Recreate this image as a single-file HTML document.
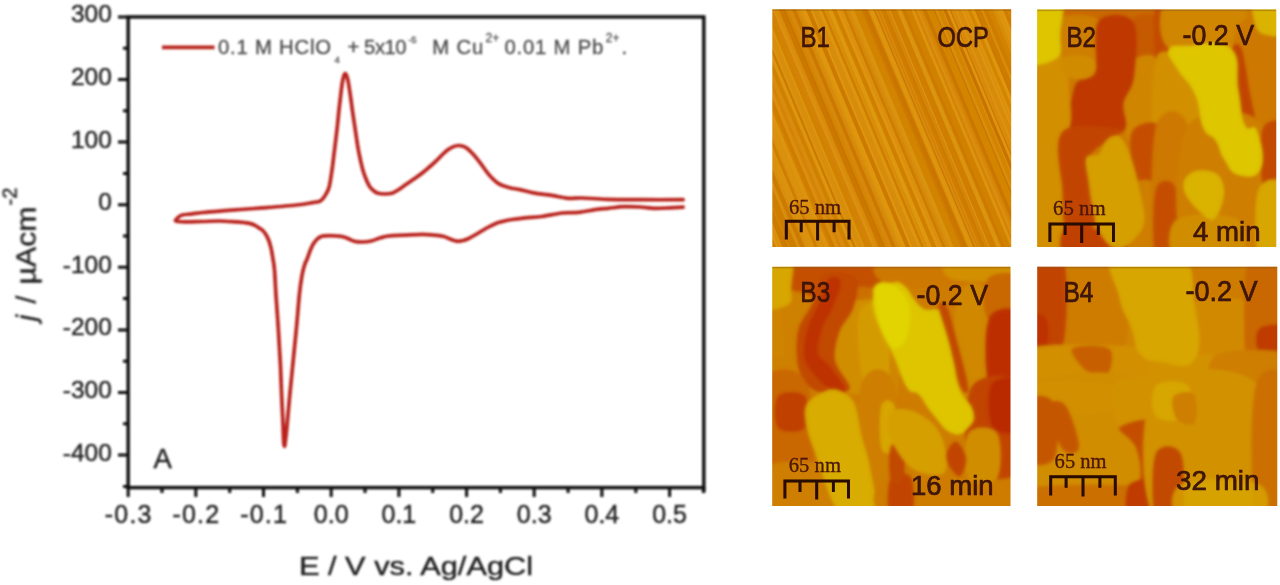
<!DOCTYPE html>
<html lang="en">
<head>
<meta charset="utf-8">
<title>Cyclic voltammogram and AFM images</title>
<style>
html,body{margin:0;padding:0;background:#fff;}
body{width:1280px;height:585px;overflow:hidden;position:relative;}
svg{position:absolute;left:0;top:0;display:block;}
svg text{font-family:'Liberation Sans', Arial, sans-serif;}
.serif{font-family:'Liberation Serif','Times New Roman',serif;}
</style>
</head>
<body>
<svg width="1280" height="585" viewBox="0 0 1280 585">
<defs>
<filter id="soft" x="-2%" y="-2%" width="104%" height="104%"><feGaussianBlur stdDeviation="0.8"/></filter>
</defs>
<rect width="1280" height="585" fill="#ffffff"/>
<g filter="url(#soft)">
<rect x="128.2" y="16.9" width="575.6" height="470.7" fill="none" stroke="#0a0a0a" stroke-width="3.4"/>
<path d="M118.0 455.1H128.2M118.0 392.5H128.2M118.0 329.9H128.2M118.0 267.3H128.2M118.0 204.7H128.2M118.0 142.1H128.2M118.0 79.5H128.2M118.0 16.9H128.2M123.0 423.8H128.2M123.0 361.2H128.2M123.0 298.6H128.2M123.0 236.0H128.2M123.0 173.4H128.2M123.0 110.8H128.2M123.0 48.2H128.2M123.0 486.4H128.2M128.2 487.6V497.0M195.8 487.6V497.0M263.5 487.6V497.0M331.2 487.6V497.0M398.9 487.6V497.0M466.6 487.6V497.0M534.2 487.6V497.0M601.9 487.6V497.0M669.6 487.6V497.0M162.0 487.6V493.0M229.7 487.6V493.0M297.4 487.6V493.0M365.0 487.6V493.0M432.7 487.6V493.0M500.4 487.6V493.0M568.1 487.6V493.0M635.8 487.6V493.0M703.4 487.6V493.0" stroke="#0a0a0a" stroke-width="3" fill="none"/>
<path d="M703.8 487.6V492.5" stroke="#0a0a0a" stroke-width="3.4"/>
<text x="111.8" y="460.5" text-anchor="end" font-size="24.5" fill="#232323" stroke="#232323" stroke-width="0.45">-400</text>
<text x="111.8" y="397.9" text-anchor="end" font-size="24.5" fill="#232323" stroke="#232323" stroke-width="0.45">-300</text>
<text x="111.8" y="335.3" text-anchor="end" font-size="24.5" fill="#232323" stroke="#232323" stroke-width="0.45">-200</text>
<text x="111.8" y="272.7" text-anchor="end" font-size="24.5" fill="#232323" stroke="#232323" stroke-width="0.45">-100</text>
<text x="111.8" y="210.1" text-anchor="end" font-size="24.5" fill="#232323" stroke="#232323" stroke-width="0.45">0</text>
<text x="111.8" y="147.5" text-anchor="end" font-size="24.5" fill="#232323" stroke="#232323" stroke-width="0.45">100</text>
<text x="111.8" y="84.9" text-anchor="end" font-size="24.5" fill="#232323" stroke="#232323" stroke-width="0.45">200</text>
<text x="111.8" y="22.3" text-anchor="end" font-size="24.5" fill="#232323" stroke="#232323" stroke-width="0.45">300</text>
<text x="128.8" y="522.6" text-anchor="middle" font-size="25" fill="#232323" stroke="#232323" stroke-width="0.45" letter-spacing="1.2">-0.3</text>
<text x="196.4" y="522.6" text-anchor="middle" font-size="25" fill="#232323" stroke="#232323" stroke-width="0.45" letter-spacing="1.2">-0.2</text>
<text x="264.1" y="522.6" text-anchor="middle" font-size="25" fill="#232323" stroke="#232323" stroke-width="0.45" letter-spacing="1.2">-0.1</text>
<text x="331.2" y="522.6" text-anchor="middle" font-size="25" fill="#232323" stroke="#232323" stroke-width="0.45">0.0</text>
<text x="398.9" y="522.6" text-anchor="middle" font-size="25" fill="#232323" stroke="#232323" stroke-width="0.45">0.1</text>
<text x="466.6" y="522.6" text-anchor="middle" font-size="25" fill="#232323" stroke="#232323" stroke-width="0.45">0.2</text>
<text x="534.2" y="522.6" text-anchor="middle" font-size="25" fill="#232323" stroke="#232323" stroke-width="0.45">0.3</text>
<text x="601.9" y="522.6" text-anchor="middle" font-size="25" fill="#232323" stroke="#232323" stroke-width="0.45">0.4</text>
<text x="669.6" y="522.6" text-anchor="middle" font-size="25" fill="#232323" stroke="#232323" stroke-width="0.45">0.5</text>
<text x="299.0" y="575" font-size="26.5" fill="#232323" stroke="#232323" stroke-width="0.45" textLength="234" lengthAdjust="spacingAndGlyphs">E / V vs. Ag/AgCl</text>
<g transform="translate(35.6 323) rotate(-90)" fill="#232323" stroke="#232323" stroke-width="0.45"><text x="2" y="0" font-size="28" font-style="italic">j</text><text x="19.5" y="0" font-size="28">/</text><text x="38.5" y="0" font-size="28" textLength="78" lengthAdjust="spacingAndGlyphs">µAcm</text><text x="117.5" y="-18.6" font-size="20">-2</text></g>
<text x="153.6" y="468.3" font-size="27.5" fill="#232323" stroke="#232323" stroke-width="0.45">A</text>
<path d="M175.4 220.5C175.8 220.0 176.9 218.4 178.0 217.5C179.1 216.6 179.9 215.6 182.2 215.0C184.5 214.4 188.6 214.3 192.0 213.9C195.4 213.5 196.6 213.1 202.7 212.5C208.8 211.9 218.4 211.2 228.4 210.4C238.4 209.6 251.2 208.8 262.6 207.9C274.0 207.0 288.3 205.9 296.8 205.0C305.3 204.1 310.0 203.0 313.8 202.4C317.6 201.8 318.3 202.0 319.8 201.3C321.3 200.7 322.0 199.7 323.0 198.5C324.0 197.3 325.0 195.9 326.0 194.0C327.0 192.1 328.2 190.8 329.2 186.8C330.2 182.8 331.1 176.1 332.0 170.0C332.9 163.9 333.6 156.9 334.5 150.0C335.4 143.1 336.3 135.4 337.1 128.4C337.9 121.4 338.5 114.3 339.2 108.0C339.9 101.7 340.6 95.6 341.2 90.8C341.8 86.0 342.4 81.8 343.0 79.0C343.6 76.2 344.2 74.3 344.8 73.7C345.4 73.1 346.0 74.4 346.5 75.5C347.0 76.6 347.4 77.2 348.0 80.5C348.6 83.8 349.6 89.9 350.3 95.0C351.1 100.1 351.7 105.8 352.5 111.3C353.3 116.8 354.1 122.3 355.0 128.0C355.9 133.7 356.8 140.5 357.6 145.5C358.4 150.5 359.1 154.0 360.0 158.0C360.9 162.0 361.7 165.9 362.7 169.4C363.7 172.9 364.9 176.2 366.0 179.0C367.1 181.8 368.3 184.5 369.6 186.5C370.9 188.5 372.6 189.9 374.0 191.0C375.4 192.1 376.3 192.8 378.1 193.3C379.9 193.8 382.7 194.0 385.0 194.0C387.3 194.0 389.6 194.0 391.8 193.3C394.0 192.6 395.7 191.4 398.0 190.0C400.3 188.6 402.8 186.6 405.5 184.8C408.2 183.0 411.1 181.0 414.0 179.0C416.9 177.0 419.9 174.9 422.6 172.8C425.3 170.7 427.7 168.5 430.0 166.5C432.3 164.5 434.2 162.8 436.2 160.9C438.2 159.0 440.0 156.9 442.0 155.0C444.0 153.1 446.3 151.0 448.2 149.6C450.1 148.2 451.8 147.3 453.5 146.6C455.2 145.9 456.9 145.6 458.5 145.5C460.1 145.4 461.6 145.8 463.0 146.2C464.4 146.6 465.5 147.1 467.0 148.2C468.5 149.3 470.3 151.2 472.0 153.0C473.7 154.8 475.6 156.9 477.3 159.1C479.1 161.3 480.8 163.7 482.5 166.0C484.2 168.3 485.8 170.7 487.5 172.8C489.2 174.9 490.8 176.8 492.5 178.5C494.2 180.2 495.9 181.8 497.8 183.1C499.7 184.3 501.7 185.2 504.0 186.0C506.3 186.8 508.8 187.6 511.5 188.2C514.2 188.8 516.4 188.8 520.0 189.6C523.6 190.4 528.0 191.9 533.3 192.9C538.6 193.9 546.0 194.5 551.8 195.4C557.6 196.3 563.1 197.9 568.2 198.3C573.3 198.7 576.1 197.8 582.6 198.0C589.1 198.2 597.0 199.0 607.2 199.3C617.5 199.6 631.5 199.6 644.1 199.7C656.8 199.8 676.6 199.7 683.1 199.7 M683.1 207.1C680.9 207.2 674.8 207.6 670.0 207.8C665.2 208.0 659.4 208.4 654.4 208.3C649.4 208.2 645.1 207.3 640.0 207.0C634.9 206.7 628.9 206.5 623.6 206.7C618.3 206.9 612.8 207.8 608.0 208.3C603.2 208.8 599.8 209.0 594.9 209.7C590.0 210.4 584.0 211.8 578.5 212.3C573.0 212.9 568.2 212.3 562.0 213.0C555.8 213.7 547.6 215.7 541.5 216.5C535.4 217.3 530.0 217.3 525.1 217.8C520.2 218.3 515.4 219.0 512.0 219.5C508.6 220.0 507.1 220.4 504.6 221.0C502.1 221.6 499.4 222.1 497.0 223.0C494.6 223.9 492.3 225.2 490.3 226.2C488.3 227.2 486.7 228.0 485.0 229.0C483.3 230.0 481.8 230.9 480.0 232.0C478.2 233.1 476.2 234.3 474.0 235.5C471.8 236.7 469.0 238.4 467.0 239.3C465.0 240.2 463.7 240.5 462.0 240.8C460.3 241.1 458.8 241.5 456.8 241.2C454.8 240.9 452.3 239.8 450.0 239.0C447.7 238.2 445.9 237.0 443.1 236.3C440.3 235.6 436.4 235.3 433.0 235.0C429.6 234.7 427.3 234.4 422.6 234.4C417.9 234.4 410.7 234.9 405.0 235.2C399.3 235.5 392.6 235.5 388.4 236.0C384.2 236.5 382.9 237.2 380.0 238.0C377.1 238.8 374.3 240.3 371.3 241.0C368.3 241.7 364.9 242.0 362.0 242.0C359.1 242.0 356.5 241.8 354.2 241.2C351.9 240.6 350.0 239.3 348.0 238.5C346.0 237.7 343.8 236.9 342.0 236.5C340.2 236.1 339.1 236.2 337.1 236.0C335.1 235.8 332.2 235.6 330.0 235.6C327.8 235.6 325.8 235.7 324.1 235.9C322.4 236.1 321.1 236.5 320.0 237.0C318.9 237.5 318.4 237.9 317.3 239.0C316.2 240.1 314.6 241.7 313.5 243.5C312.4 245.3 311.4 247.6 310.4 250.0C309.4 252.4 308.5 255.4 307.5 258.0C306.5 260.6 305.3 262.5 304.4 265.5C303.5 268.5 302.7 271.2 301.9 276.0C301.1 280.8 300.3 285.5 299.4 294.2C298.5 302.9 297.5 317.0 296.4 328.4C295.3 339.8 294.1 351.2 293.0 362.6C291.9 374.0 290.6 385.9 289.6 396.8C288.6 407.7 287.5 420.5 286.8 428.0C286.1 435.5 285.7 438.9 285.3 442.0C284.9 445.1 284.7 446.5 284.4 446.3C284.1 446.1 283.8 444.7 283.6 441.0C283.4 437.3 283.3 431.5 283.0 424.1C282.7 416.7 282.1 407.1 281.7 396.8C281.2 386.6 280.9 374.0 280.3 362.6C279.7 351.2 279.0 339.8 278.3 328.4C277.6 317.0 276.5 303.9 275.9 294.2C275.3 284.5 275.0 276.0 274.5 270.0C274.0 264.0 273.4 261.6 272.8 258.0C272.2 254.4 271.8 251.3 271.1 248.4C270.4 245.5 269.7 242.8 268.8 240.5C267.9 238.2 267.0 236.4 266.0 234.7C265.0 233.0 263.9 231.6 262.8 230.5C261.7 229.4 260.4 228.8 259.1 227.9C257.8 227.0 256.4 226.0 255.0 225.3C253.6 224.6 252.4 224.1 250.6 223.6C248.8 223.1 246.3 222.8 244.0 222.5C241.7 222.2 240.9 222.2 236.9 221.9C232.9 221.7 225.5 221.1 219.8 221.0C214.1 220.9 208.4 221.4 202.7 221.5C197.0 221.6 189.7 221.8 185.6 221.8C181.5 221.8 179.7 221.7 178.0 221.5C176.3 221.3 175.8 220.7 175.4 220.5" fill="none" stroke="#ba211c" stroke-width="3.7" stroke-linejoin="round" stroke-linecap="round"/>
<path d="M162 47.3H214.5" stroke="#ba211c" stroke-width="3.7"/>
<text x="218.0" y="54.3" font-size="20.3" fill="#4a4a4a" stroke="#4a4a4a" stroke-width="0.3" textLength="113" lengthAdjust="spacing">0.1 M HClO</text>
<text x="334.4" y="63.2" font-size="9.5" fill="#4a4a4a" stroke="#4a4a4a" stroke-width="0.3">4</text>
<text x="347.6" y="54.3" font-size="20.3" fill="#4a4a4a" stroke="#4a4a4a" stroke-width="0.3" textLength="59" lengthAdjust="spacing">+ 5x10</text>
<text x="408.2" y="43.0" font-size="9.5" fill="#4a4a4a" stroke="#4a4a4a" stroke-width="0.3">-5</text>
<text x="432.2" y="54.3" font-size="20.3" fill="#4a4a4a" stroke="#4a4a4a" stroke-width="0.3" textLength="51" lengthAdjust="spacing">M Cu</text>
<text x="485.6" y="41.6" font-size="12.0" fill="#4a4a4a" stroke="#4a4a4a" stroke-width="0.3">2+</text>
<text x="504.4" y="54.3" font-size="20.3" fill="#4a4a4a" stroke="#4a4a4a" stroke-width="0.3" textLength="99" lengthAdjust="spacing">0.01 M Pb</text>
<text x="605.8" y="41.6" font-size="12.0" fill="#4a4a4a" stroke="#4a4a4a" stroke-width="0.3">2+</text>
<text x="621.6" y="54.3" font-size="20.3" fill="#4a4a4a" stroke="#4a4a4a" stroke-width="0.3">.</text>
</g>
<defs>
<clipPath id="cpB1"><rect x="772.3" y="9.3" width="238.9" height="237.7"/></clipPath>
<clipPath id="cpB2"><rect x="1037.2" y="9.5" width="239.0" height="237.5"/></clipPath>
<clipPath id="cpB3"><rect x="772.3" y="266.8" width="238.1" height="239.2"/></clipPath>
<clipPath id="cpB4"><rect x="1037.3" y="266.8" width="239.9" height="239.2"/></clipPath>
<filter id="edge" x="-5%" y="-5%" width="110%" height="110%"><feGaussianBlur stdDeviation="0.7"/></filter>
<filter id="crisp" x="-5%" y="-5%" width="110%" height="110%"><feGaussianBlur stdDeviation="1.1"/></filter>
<filter id="tx" x="-5%" y="-20%" width="110%" height="140%"><feGaussianBlur stdDeviation="0.75"/></filter>
</defs>
<defs><filter id="blB1" x="-10%" y="-10%" width="120%" height="120%"><feGaussianBlur stdDeviation="0.62"/></filter></defs>
<g filter="url(#edge)"><g clip-path="url(#cpB1)">
<g filter="url(#blB1)"><g transform="translate(772.3 9.3) scale(0.40838 0.40632)">
<rect x="-60" y="-60" width="705" height="705" fill="#d88a08"/>
<g transform="rotate(-22.7 292 292)">
<rect x="-60" y="-200" width="70" height="1000" fill="#b96a02" fill-opacity="0.16"/>
<rect x="70" y="-200" width="55" height="1000" fill="#dc9c0a" fill-opacity="0.20"/>
<rect x="150" y="-200" width="45" height="1000" fill="#b96a02" fill-opacity="0.16"/>
<rect x="215" y="-200" width="60" height="1000" fill="#dc9c0a" fill-opacity="0.14"/>
<rect x="300" y="-200" width="50" height="1000" fill="#b96a02" fill-opacity="0.18"/>
<rect x="380" y="-200" width="70" height="1000" fill="#dc9c0a" fill-opacity="0.12"/>
<rect x="470" y="-200" width="60" height="1000" fill="#b96a02" fill-opacity="0.14"/>
<rect x="560" y="-200" width="80" height="1000" fill="#dc9c0a" fill-opacity="0.14"/>
<rect x="-194" y="-200" width="6" height="1000" fill="#b45400" fill-opacity="0.32"/>
<rect x="-188" y="-200" width="4" height="1000" fill="#eab018" fill-opacity="0.23"/>
<rect x="-184" y="-200" width="10" height="1000" fill="#b45400" fill-opacity="0.15"/>
<rect x="-174" y="-200" width="6" height="1000" fill="#eab018" fill-opacity="0.12"/>
<rect x="-168" y="-200" width="10" height="1000" fill="#b45400" fill-opacity="0.25"/>
<rect x="-152" y="-200" width="10" height="1000" fill="#b45400" fill-opacity="0.27"/>
<rect x="-142" y="-200" width="8" height="1000" fill="#eab018" fill-opacity="0.24"/>
<rect x="-134" y="-200" width="3" height="1000" fill="#eab018" fill-opacity="0.33"/>
<rect x="-131" y="-200" width="8" height="1000" fill="#eab018" fill-opacity="0.22"/>
<rect x="-123" y="-200" width="6" height="1000" fill="#b45400" fill-opacity="0.15"/>
<rect x="-117" y="-200" width="4" height="1000" fill="#b45400" fill-opacity="0.23"/>
<rect x="-113" y="-200" width="10" height="1000" fill="#eab018" fill-opacity="0.27"/>
<rect x="-97" y="-200" width="3" height="1000" fill="#b45400" fill-opacity="0.18"/>
<rect x="-94" y="-200" width="4" height="1000" fill="#b45400" fill-opacity="0.11"/>
<rect x="-90" y="-200" width="8" height="1000" fill="#b45400" fill-opacity="0.20"/>
<rect x="-82" y="-200" width="5" height="1000" fill="#eab018" fill-opacity="0.35"/>
<rect x="-77" y="-200" width="10" height="1000" fill="#eab018" fill-opacity="0.15"/>
<rect x="-67" y="-200" width="3" height="1000" fill="#b45400" fill-opacity="0.35"/>
<rect x="-64" y="-200" width="6" height="1000" fill="#b45400" fill-opacity="0.25"/>
<rect x="-58" y="-200" width="4" height="1000" fill="#b45400" fill-opacity="0.17"/>
<rect x="-54" y="-200" width="3" height="1000" fill="#eab018" fill-opacity="0.10"/>
<rect x="-51" y="-200" width="6" height="1000" fill="#b45400" fill-opacity="0.13"/>
<rect x="-45" y="-200" width="4" height="1000" fill="#b45400" fill-opacity="0.10"/>
<rect x="-41" y="-200" width="6" height="1000" fill="#b45400" fill-opacity="0.15"/>
<rect x="-35" y="-200" width="8" height="1000" fill="#eab018" fill-opacity="0.23"/>
<rect x="-27" y="-200" width="10" height="1000" fill="#b45400" fill-opacity="0.21"/>
<rect x="-17" y="-200" width="6" height="1000" fill="#eab018" fill-opacity="0.21"/>
<rect x="-11" y="-200" width="4" height="1000" fill="#eab018" fill-opacity="0.32"/>
<rect x="-7" y="-200" width="8" height="1000" fill="#eab018" fill-opacity="0.33"/>
<rect x="1" y="-200" width="4" height="1000" fill="#eab018" fill-opacity="0.36"/>
<rect x="5" y="-200" width="8" height="1000" fill="#b45400" fill-opacity="0.13"/>
<rect x="13" y="-200" width="4" height="1000" fill="#eab018" fill-opacity="0.17"/>
<rect x="17" y="-200" width="8" height="1000" fill="#eab018" fill-opacity="0.18"/>
<rect x="25" y="-200" width="3" height="1000" fill="#eab018" fill-opacity="0.15"/>
<rect x="28" y="-200" width="10" height="1000" fill="#eab018" fill-opacity="0.26"/>
<rect x="38" y="-200" width="5" height="1000" fill="#b45400" fill-opacity="0.13"/>
<rect x="43" y="-200" width="8" height="1000" fill="#b45400" fill-opacity="0.25"/>
<rect x="51" y="-200" width="6" height="1000" fill="#eab018" fill-opacity="0.14"/>
<rect x="61" y="-200" width="4" height="1000" fill="#b45400" fill-opacity="0.14"/>
<rect x="75" y="-200" width="4" height="1000" fill="#b45400" fill-opacity="0.20"/>
<rect x="79" y="-200" width="6" height="1000" fill="#b45400" fill-opacity="0.21"/>
<rect x="85" y="-200" width="3" height="1000" fill="#eab018" fill-opacity="0.23"/>
<rect x="88" y="-200" width="5" height="1000" fill="#eab018" fill-opacity="0.28"/>
<rect x="93" y="-200" width="5" height="1000" fill="#b45400" fill-opacity="0.34"/>
<rect x="98" y="-200" width="6" height="1000" fill="#eab018" fill-opacity="0.15"/>
<rect x="114" y="-200" width="4" height="1000" fill="#eab018" fill-opacity="0.25"/>
<rect x="118" y="-200" width="8" height="1000" fill="#b45400" fill-opacity="0.17"/>
<rect x="126" y="-200" width="4" height="1000" fill="#b45400" fill-opacity="0.12"/>
<rect x="130" y="-200" width="6" height="1000" fill="#b45400" fill-opacity="0.12"/>
<rect x="136" y="-200" width="4" height="1000" fill="#eab018" fill-opacity="0.24"/>
<rect x="140" y="-200" width="4" height="1000" fill="#eab018" fill-opacity="0.14"/>
<rect x="150" y="-200" width="10" height="1000" fill="#b45400" fill-opacity="0.24"/>
<rect x="160" y="-200" width="4" height="1000" fill="#b45400" fill-opacity="0.34"/>
<rect x="170" y="-200" width="10" height="1000" fill="#eab018" fill-opacity="0.11"/>
<rect x="180" y="-200" width="8" height="1000" fill="#b45400" fill-opacity="0.23"/>
<rect x="188" y="-200" width="10" height="1000" fill="#eab018" fill-opacity="0.14"/>
<rect x="198" y="-200" width="3" height="1000" fill="#eab018" fill-opacity="0.24"/>
<rect x="201" y="-200" width="10" height="1000" fill="#eab018" fill-opacity="0.34"/>
<rect x="211" y="-200" width="10" height="1000" fill="#b45400" fill-opacity="0.31"/>
<rect x="221" y="-200" width="5" height="1000" fill="#eab018" fill-opacity="0.28"/>
<rect x="238" y="-200" width="8" height="1000" fill="#eab018" fill-opacity="0.27"/>
<rect x="246" y="-200" width="6" height="1000" fill="#b45400" fill-opacity="0.26"/>
<rect x="252" y="-200" width="3" height="1000" fill="#eab018" fill-opacity="0.13"/>
<rect x="260" y="-200" width="10" height="1000" fill="#eab018" fill-opacity="0.34"/>
<rect x="270" y="-200" width="10" height="1000" fill="#b45400" fill-opacity="0.21"/>
<rect x="280" y="-200" width="8" height="1000" fill="#eab018" fill-opacity="0.30"/>
<rect x="288" y="-200" width="3" height="1000" fill="#eab018" fill-opacity="0.12"/>
<rect x="291" y="-200" width="3" height="1000" fill="#eab018" fill-opacity="0.28"/>
<rect x="294" y="-200" width="6" height="1000" fill="#b45400" fill-opacity="0.27"/>
<rect x="300" y="-200" width="6" height="1000" fill="#eab018" fill-opacity="0.10"/>
<rect x="306" y="-200" width="5" height="1000" fill="#eab018" fill-opacity="0.26"/>
<rect x="311" y="-200" width="8" height="1000" fill="#eab018" fill-opacity="0.34"/>
<rect x="335" y="-200" width="5" height="1000" fill="#b45400" fill-opacity="0.17"/>
<rect x="340" y="-200" width="10" height="1000" fill="#b45400" fill-opacity="0.31"/>
<rect x="354" y="-200" width="6" height="1000" fill="#eab018" fill-opacity="0.34"/>
<rect x="360" y="-200" width="4" height="1000" fill="#eab018" fill-opacity="0.23"/>
<rect x="364" y="-200" width="3" height="1000" fill="#b45400" fill-opacity="0.35"/>
<rect x="372" y="-200" width="3" height="1000" fill="#b45400" fill-opacity="0.17"/>
<rect x="379" y="-200" width="6" height="1000" fill="#b45400" fill-opacity="0.23"/>
<rect x="385" y="-200" width="5" height="1000" fill="#b45400" fill-opacity="0.32"/>
<rect x="390" y="-200" width="8" height="1000" fill="#b45400" fill-opacity="0.12"/>
<rect x="398" y="-200" width="3" height="1000" fill="#eab018" fill-opacity="0.26"/>
<rect x="401" y="-200" width="10" height="1000" fill="#b45400" fill-opacity="0.25"/>
<rect x="411" y="-200" width="5" height="1000" fill="#b45400" fill-opacity="0.25"/>
<rect x="416" y="-200" width="10" height="1000" fill="#eab018" fill-opacity="0.22"/>
<rect x="426" y="-200" width="3" height="1000" fill="#b45400" fill-opacity="0.17"/>
<rect x="429" y="-200" width="4" height="1000" fill="#b45400" fill-opacity="0.36"/>
<rect x="433" y="-200" width="3" height="1000" fill="#b45400" fill-opacity="0.26"/>
<rect x="436" y="-200" width="10" height="1000" fill="#b45400" fill-opacity="0.20"/>
<rect x="446" y="-200" width="3" height="1000" fill="#b45400" fill-opacity="0.15"/>
<rect x="449" y="-200" width="6" height="1000" fill="#eab018" fill-opacity="0.29"/>
<rect x="455" y="-200" width="6" height="1000" fill="#b45400" fill-opacity="0.11"/>
<rect x="461" y="-200" width="4" height="1000" fill="#eab018" fill-opacity="0.19"/>
<rect x="475" y="-200" width="8" height="1000" fill="#b45400" fill-opacity="0.30"/>
<rect x="499" y="-200" width="3" height="1000" fill="#b45400" fill-opacity="0.33"/>
<rect x="502" y="-200" width="6" height="1000" fill="#eab018" fill-opacity="0.22"/>
<rect x="518" y="-200" width="3" height="1000" fill="#eab018" fill-opacity="0.25"/>
<rect x="521" y="-200" width="8" height="1000" fill="#b45400" fill-opacity="0.35"/>
<rect x="529" y="-200" width="6" height="1000" fill="#eab018" fill-opacity="0.36"/>
<rect x="535" y="-200" width="3" height="1000" fill="#b45400" fill-opacity="0.31"/>
<rect x="548" y="-200" width="3" height="1000" fill="#eab018" fill-opacity="0.33"/>
<rect x="562" y="-200" width="5" height="1000" fill="#eab018" fill-opacity="0.29"/>
<rect x="567" y="-200" width="3" height="1000" fill="#eab018" fill-opacity="0.12"/>
<rect x="570" y="-200" width="6" height="1000" fill="#eab018" fill-opacity="0.21"/>
<rect x="576" y="-200" width="5" height="1000" fill="#b45400" fill-opacity="0.11"/>
<rect x="581" y="-200" width="3" height="1000" fill="#b45400" fill-opacity="0.11"/>
<rect x="584" y="-200" width="8" height="1000" fill="#eab018" fill-opacity="0.30"/>
<rect x="592" y="-200" width="4" height="1000" fill="#b45400" fill-opacity="0.36"/>
<rect x="596" y="-200" width="10" height="1000" fill="#b45400" fill-opacity="0.28"/>
<rect x="612" y="-200" width="6" height="1000" fill="#b45400" fill-opacity="0.28"/>
<rect x="618" y="-200" width="4" height="1000" fill="#b45400" fill-opacity="0.25"/>
<rect x="622" y="-200" width="10" height="1000" fill="#b45400" fill-opacity="0.14"/>
<rect x="640" y="-200" width="8" height="1000" fill="#eab018" fill-opacity="0.27"/>
<rect x="648" y="-200" width="8" height="1000" fill="#eab018" fill-opacity="0.32"/>
<rect x="656" y="-200" width="8" height="1000" fill="#b45400" fill-opacity="0.25"/>
<rect x="664" y="-200" width="4" height="1000" fill="#b45400" fill-opacity="0.13"/>
<rect x="668" y="-200" width="3" height="1000" fill="#b45400" fill-opacity="0.11"/>
<rect x="671" y="-200" width="3" height="1000" fill="#b45400" fill-opacity="0.20"/>
<rect x="674" y="-200" width="8" height="1000" fill="#eab018" fill-opacity="0.12"/>
<rect x="682" y="-200" width="4" height="1000" fill="#eab018" fill-opacity="0.24"/>
<rect x="692" y="-200" width="6" height="1000" fill="#eab018" fill-opacity="0.22"/>
<rect x="698" y="-200" width="4" height="1000" fill="#eab018" fill-opacity="0.33"/>
<rect x="702" y="-200" width="6" height="1000" fill="#b45400" fill-opacity="0.13"/>
<rect x="708" y="-200" width="6" height="1000" fill="#b45400" fill-opacity="0.34"/>
<rect x="714" y="-200" width="4" height="1000" fill="#b45400" fill-opacity="0.35"/>
<rect x="718" y="-200" width="3" height="1000" fill="#eab018" fill-opacity="0.16"/>
<rect x="721" y="-200" width="10" height="1000" fill="#eab018" fill-opacity="0.29"/>
<rect x="731" y="-200" width="4" height="1000" fill="#b45400" fill-opacity="0.13"/>
<rect x="735" y="-200" width="10" height="1000" fill="#b45400" fill-opacity="0.32"/>
<rect x="745" y="-200" width="8" height="1000" fill="#eab018" fill-opacity="0.15"/>
<rect x="761" y="-200" width="3" height="1000" fill="#eab018" fill-opacity="0.21"/>
<rect x="764" y="-200" width="8" height="1000" fill="#b45400" fill-opacity="0.24"/>
<rect x="772" y="-200" width="10" height="1000" fill="#b45400" fill-opacity="0.16"/>
<rect x="786" y="-200" width="8" height="1000" fill="#b45400" fill-opacity="0.14"/>
<rect x="794" y="-200" width="10" height="1000" fill="#b45400" fill-opacity="0.19"/>
</g>
</g></g>
<rect x="772.3" y="9.3" width="238.9" height="1.6" fill="#8a5a10" fill-opacity="0.45"/>
</g></g>
<defs><filter id="blB2" x="-10%" y="-10%" width="120%" height="120%"><feGaussianBlur stdDeviation="2.05"/></filter></defs>
<g filter="url(#edge)"><g clip-path="url(#cpB2)">
<g filter="url(#blB2)"><g transform="translate(1037.2 9.5) scale(0.40855 0.40598)">
<rect x="-60" y="-60" width="705" height="705" fill="#cd7802"/>
<path d="M50 -30C95 -41 275 -41 320 -30C365 -19 365 24 320 35C275 46 95 46 50 35C5 24 5 -19 50 -30Z" fill="#c96702"/>
<path d="M50 25C66 9 133 9 150 25C167 41 166 104 150 120C134 136 72 136 55 120C38 104 34 41 50 25Z" fill="#ce7e02"/>
<path d="M235 25C245 8 289 8 300 25C311 42 310 112 300 130C290 148 251 148 240 130C229 112 225 42 235 25Z" fill="#c65a02"/>
<path d="M222 140C236 113 287 98 300 130C313 162 311 297 300 330C289 363 249 337 235 330C221 323 217 322 215 290C213 258 208 167 222 140Z" fill="#d08502"/>
<path d="M150 28C166 8 220 7 235 30C250 53 242 132 238 165C234 198 217 208 212 230C207 252 231 288 210 300C189 312 105 317 85 300C65 283 84 222 88 200C92 178 101 176 110 168C119 160 135 173 142 150C149 127 134 48 150 28Z" fill="#be3802"/>
<path d="M-30 110C-15 79 42 100 60 115C78 130 76 169 78 200C80 231 90 283 72 300C54 317 -13 332 -30 300C-47 268 -45 141 -30 110Z" fill="#d29002"/>
<path d="M-30 -30C-15 -56 44 -45 58 -30C72 -15 57 35 56 60C55 85 64 107 50 118C36 129 -17 150 -30 125C-43 100 -45 -4 -30 -30Z" fill="#dec502"/>
<path d="M60 122C66 115 87 112 100 112C113 112 134 117 140 125C146 133 145 152 138 160C131 168 113 173 100 172C87 171 69 163 62 155C55 147 54 129 60 122Z" fill="#d18b02"/>
<path d="M290 -30C296 -56 319 -56 324 -30C329 -4 328 99 322 125C316 151 295 151 290 125C285 99 284 -4 290 -30Z" fill="#c34b02"/>
<path d="M322 -30C351 -51 467 -50 495 -30C523 -10 521 71 492 92C463 113 350 115 322 95C294 75 293 -9 322 -30Z" fill="#d08602"/>
<path d="M290 125C299 89 328 108 345 120C362 132 382 165 392 200C402 235 422 308 405 330C388 352 309 369 290 335C271 301 281 161 290 125Z" fill="#d28f02"/>
<path d="M490 45C512 -2 598 -2 620 45C642 92 642 282 620 330C598 378 512 378 490 330C468 282 468 92 490 45Z" fill="#cd7802"/>
<path d="M476 100C478 82 493 78 500 95C507 112 514 166 520 200C526 234 541 283 535 300C529 317 492 317 484 300C476 283 489 233 488 200C487 167 474 118 476 100Z" fill="#c14402"/>
<path d="M532 -30C546 -42 605 -45 620 -30C635 -15 630 43 620 58C610 73 574 65 560 62C546 59 540 55 535 40C530 25 518 -18 532 -30Z" fill="#dab202"/>
<path d="M-30 292C-13 237 55 283 70 292C85 301 64 310 62 345C60 380 61 454 60 500C59 546 73 600 58 620C43 640 -15 675 -30 620C-45 565 -47 347 -30 292Z" fill="#d28f02"/>
<path d="M62 300C87 274 192 291 210 295C228 299 184 313 170 325C156 337 135 344 128 365C121 386 126 422 128 450C130 478 149 514 140 530C131 546 88 558 75 545C62 532 64 491 62 450C60 409 37 326 62 300Z" fill="#c14402"/>
<path d="M238 292C250 282 290 266 300 292C310 318 309 420 300 445C291 470 260 456 248 440C236 424 230 375 228 350C226 325 226 302 238 292Z" fill="#c45002"/>
<path d="M225 442C239 412 288 412 300 442C312 472 314 590 300 620C286 650 228 650 215 620C202 590 211 472 225 442Z" fill="#ce7e02"/>
<path d="M72 535C94 525 183 548 205 562C227 576 227 610 205 620C183 630 94 634 72 620C50 606 50 545 72 535Z" fill="#c04102"/>
<path d="M120 367C123 353 142 364 150 357C158 350 162 330 170 322C178 314 191 307 200 312C209 317 217 330 225 352C233 374 244 412 250 442C256 472 268 507 260 532C252 557 218 588 200 590C182 592 162 567 150 542C138 517 135 471 130 442C125 413 117 381 120 367Z" fill="#d59f02"/>
<path d="M290 292C303 237 357 237 370 292C383 347 380 565 367 620C354 675 303 675 290 620C277 565 277 347 290 292Z" fill="#cd7802"/>
<path d="M290 442C299 413 333 415 342 445C351 475 354 591 345 620C336 649 299 650 290 620C281 590 281 471 290 442Z" fill="#c45002"/>
<path d="M365 292C398 237 528 237 560 292C592 347 592 565 560 620C528 675 398 675 365 620C332 565 332 347 365 292Z" fill="#ce7e02"/>
<path d="M342 517C367 500 467 500 492 517C517 534 517 603 492 620C467 637 367 637 342 620C317 603 317 534 342 517Z" fill="#d18d02"/>
<path d="M552 292C563 267 609 266 620 292C631 318 631 420 620 445C609 470 566 468 555 442C544 416 541 317 552 292Z" fill="#c24802"/>
<path d="M542 442C554 412 607 410 620 440C633 470 632 590 620 620C608 650 558 650 545 620C532 590 530 472 542 442Z" fill="#d7a602"/>
<path d="M322 100C328 87 332 91 367 90C402 89 443 69 472 95C501 121 484 156 492 200C500 244 497 262 508 285C519 308 529 275 538 300C547 325 558 367 547 392C536 417 513 413 492 407C471 401 470 387 457 367C444 347 449 340 437 322C425 304 419 318 407 292C395 266 402 244 387 210C372 176 357 171 342 145C327 119 316 113 322 100Z" fill="#dec602"/>
<path d="M362 417C367 408 379 399 392 397C405 395 431 397 442 407C453 417 459 439 457 457C455 475 443 511 432 517C421 523 404 503 392 492C380 481 367 464 362 452C357 440 357 426 362 417Z" fill="#dab202"/>
</g></g>
<g filter="url(#crisp)" opacity="0.5"><g transform="translate(1037.2 9.5) scale(0.40855 0.40598)">
<rect x="-60" y="-60" width="705" height="705" fill="#cd7802"/>
<path d="M50 -30C95 -41 275 -41 320 -30C365 -19 365 24 320 35C275 46 95 46 50 35C5 24 5 -19 50 -30Z" fill="#c96702"/>
<path d="M50 25C66 9 133 9 150 25C167 41 166 104 150 120C134 136 72 136 55 120C38 104 34 41 50 25Z" fill="#ce7e02"/>
<path d="M235 25C245 8 289 8 300 25C311 42 310 112 300 130C290 148 251 148 240 130C229 112 225 42 235 25Z" fill="#c65a02"/>
<path d="M222 140C236 113 287 98 300 130C313 162 311 297 300 330C289 363 249 337 235 330C221 323 217 322 215 290C213 258 208 167 222 140Z" fill="#d08502"/>
<path d="M150 28C166 8 220 7 235 30C250 53 242 132 238 165C234 198 217 208 212 230C207 252 231 288 210 300C189 312 105 317 85 300C65 283 84 222 88 200C92 178 101 176 110 168C119 160 135 173 142 150C149 127 134 48 150 28Z" fill="#be3802"/>
<path d="M-30 110C-15 79 42 100 60 115C78 130 76 169 78 200C80 231 90 283 72 300C54 317 -13 332 -30 300C-47 268 -45 141 -30 110Z" fill="#d29002"/>
<path d="M-30 -30C-15 -56 44 -45 58 -30C72 -15 57 35 56 60C55 85 64 107 50 118C36 129 -17 150 -30 125C-43 100 -45 -4 -30 -30Z" fill="#dec502"/>
<path d="M60 122C66 115 87 112 100 112C113 112 134 117 140 125C146 133 145 152 138 160C131 168 113 173 100 172C87 171 69 163 62 155C55 147 54 129 60 122Z" fill="#d18b02"/>
<path d="M290 -30C296 -56 319 -56 324 -30C329 -4 328 99 322 125C316 151 295 151 290 125C285 99 284 -4 290 -30Z" fill="#c34b02"/>
<path d="M322 -30C351 -51 467 -50 495 -30C523 -10 521 71 492 92C463 113 350 115 322 95C294 75 293 -9 322 -30Z" fill="#d08602"/>
<path d="M290 125C299 89 328 108 345 120C362 132 382 165 392 200C402 235 422 308 405 330C388 352 309 369 290 335C271 301 281 161 290 125Z" fill="#d28f02"/>
<path d="M490 45C512 -2 598 -2 620 45C642 92 642 282 620 330C598 378 512 378 490 330C468 282 468 92 490 45Z" fill="#cd7802"/>
<path d="M476 100C478 82 493 78 500 95C507 112 514 166 520 200C526 234 541 283 535 300C529 317 492 317 484 300C476 283 489 233 488 200C487 167 474 118 476 100Z" fill="#c14402"/>
<path d="M532 -30C546 -42 605 -45 620 -30C635 -15 630 43 620 58C610 73 574 65 560 62C546 59 540 55 535 40C530 25 518 -18 532 -30Z" fill="#dab202"/>
<path d="M-30 292C-13 237 55 283 70 292C85 301 64 310 62 345C60 380 61 454 60 500C59 546 73 600 58 620C43 640 -15 675 -30 620C-45 565 -47 347 -30 292Z" fill="#d28f02"/>
<path d="M62 300C87 274 192 291 210 295C228 299 184 313 170 325C156 337 135 344 128 365C121 386 126 422 128 450C130 478 149 514 140 530C131 546 88 558 75 545C62 532 64 491 62 450C60 409 37 326 62 300Z" fill="#c14402"/>
<path d="M238 292C250 282 290 266 300 292C310 318 309 420 300 445C291 470 260 456 248 440C236 424 230 375 228 350C226 325 226 302 238 292Z" fill="#c45002"/>
<path d="M225 442C239 412 288 412 300 442C312 472 314 590 300 620C286 650 228 650 215 620C202 590 211 472 225 442Z" fill="#ce7e02"/>
<path d="M72 535C94 525 183 548 205 562C227 576 227 610 205 620C183 630 94 634 72 620C50 606 50 545 72 535Z" fill="#c04102"/>
<path d="M120 367C123 353 142 364 150 357C158 350 162 330 170 322C178 314 191 307 200 312C209 317 217 330 225 352C233 374 244 412 250 442C256 472 268 507 260 532C252 557 218 588 200 590C182 592 162 567 150 542C138 517 135 471 130 442C125 413 117 381 120 367Z" fill="#d59f02"/>
<path d="M290 292C303 237 357 237 370 292C383 347 380 565 367 620C354 675 303 675 290 620C277 565 277 347 290 292Z" fill="#cd7802"/>
<path d="M290 442C299 413 333 415 342 445C351 475 354 591 345 620C336 649 299 650 290 620C281 590 281 471 290 442Z" fill="#c45002"/>
<path d="M365 292C398 237 528 237 560 292C592 347 592 565 560 620C528 675 398 675 365 620C332 565 332 347 365 292Z" fill="#ce7e02"/>
<path d="M342 517C367 500 467 500 492 517C517 534 517 603 492 620C467 637 367 637 342 620C317 603 317 534 342 517Z" fill="#d18d02"/>
<path d="M552 292C563 267 609 266 620 292C631 318 631 420 620 445C609 470 566 468 555 442C544 416 541 317 552 292Z" fill="#c24802"/>
<path d="M542 442C554 412 607 410 620 440C633 470 632 590 620 620C608 650 558 650 545 620C532 590 530 472 542 442Z" fill="#d7a602"/>
<path d="M322 100C328 87 332 91 367 90C402 89 443 69 472 95C501 121 484 156 492 200C500 244 497 262 508 285C519 308 529 275 538 300C547 325 558 367 547 392C536 417 513 413 492 407C471 401 470 387 457 367C444 347 449 340 437 322C425 304 419 318 407 292C395 266 402 244 387 210C372 176 357 171 342 145C327 119 316 113 322 100Z" fill="#dec602"/>
<path d="M362 417C367 408 379 399 392 397C405 395 431 397 442 407C453 417 459 439 457 457C455 475 443 511 432 517C421 523 404 503 392 492C380 481 367 464 362 452C357 440 357 426 362 417Z" fill="#dab202"/>
</g></g>
<rect x="1037.2" y="9.5" width="239.0" height="1.6" fill="#8a5a10" fill-opacity="0.45"/>
</g></g>
<defs><filter id="blB3" x="-10%" y="-10%" width="120%" height="120%"><feGaussianBlur stdDeviation="2.05"/></filter></defs>
<g filter="url(#edge)"><g clip-path="url(#cpB3)">
<g filter="url(#blB3)"><g transform="translate(772.3 266.8) scale(0.40701 0.40889)">
<rect x="-60" y="-60" width="705" height="705" fill="#cd7b02"/>
<path d="M40 -30C74 -45 216 -45 250 -30C284 -15 279 47 245 62C211 77 79 77 45 62C11 47 6 -15 40 -30Z" fill="#c45102"/>
<path d="M140 55C159 47 237 47 255 55C273 63 269 97 250 105C231 113 158 113 140 105C122 97 121 63 140 55Z" fill="#cb7102"/>
<path d="M-30 85C-8 49 83 49 105 85C127 121 122 264 100 300C78 336 -8 336 -30 300C-52 264 -52 121 -30 85Z" fill="#ce8002"/>
<path d="M-30 110C-21 78 13 78 22 110C31 142 31 268 22 300C13 332 -21 332 -30 300C-39 268 -39 142 -30 110Z" fill="#d08502" fill-opacity="0.80"/>
<path d="M135 100C168 88 272 62 300 95C328 128 323 266 300 300C277 334 190 310 160 300C130 290 129 262 120 240C111 218 102 193 105 170C108 147 102 112 135 100Z" fill="#d18d02"/>
<path d="M215 110C227 78 286 73 300 105C314 137 312 268 300 300C288 332 244 332 230 300C216 268 203 142 215 110Z" fill="#d49b02"/>
<path d="M-30 228C-5 217 90 220 120 232C150 244 175 289 150 300C125 311 0 312 -30 300C-60 288 -55 239 -30 228Z" fill="#ce8002"/>
<path d="M128 18C146 8 193 14 205 28C217 42 207 78 200 100C193 122 172 138 165 160C158 182 151 207 155 230C159 253 198 288 190 300C182 312 131 312 110 305C89 298 74 279 66 255C58 231 57 188 62 160C67 132 87 114 98 90C109 66 110 28 128 18Z" fill="#c24802"/>
<path d="M140 30C149 20 167 26 168 38C169 50 156 81 148 100C140 119 128 131 122 150C116 169 109 197 112 212C115 227 129 227 140 242C151 257 178 290 180 300C182 310 163 312 150 305C137 298 112 275 100 260C88 245 80 234 78 215C76 196 82 168 88 148C94 128 103 116 112 96C121 76 131 40 140 30Z" fill="#bd3202"/>
<path d="M-30 -30C-18 -51 32 -43 45 -30C58 -17 47 30 46 50C45 70 53 84 40 92C27 100 -18 115 -30 95C-42 75 -42 -9 -30 -30Z" fill="#d7a602"/>
<path d="M290 -30C345 -42 565 -42 620 -30C675 -18 675 30 620 42C565 54 345 54 290 42C235 30 235 -18 290 -30Z" fill="#cd7802"/>
<path d="M440 -30C470 -40 590 -40 620 -30C650 -20 650 20 620 30C590 40 470 40 440 30C410 20 410 -20 440 -30Z" fill="#d28f02"/>
<path d="M455 70C468 32 522 32 535 70C548 108 548 262 535 300C522 338 473 338 460 300C447 262 442 108 455 70Z" fill="#d08802"/>
<path d="M530 28C545 11 605 11 620 28C635 45 635 111 620 128C605 145 545 145 530 128C515 111 515 45 530 28Z" fill="#c96702"/>
<path d="M532 125C546 95 605 93 620 122C635 151 634 270 620 300C606 330 550 329 535 300C520 271 518 155 532 125Z" fill="#bc2d02"/>
<path d="M290 150C293 125 307 125 310 150C313 175 313 275 310 300C307 325 293 325 290 300C287 275 287 175 290 150Z" fill="#d08502"/>
<path d="M-30 292C-10 237 68 237 88 292C108 347 108 565 88 620C68 675 -10 675 -30 620C-50 565 -50 347 -30 292Z" fill="#c96702"/>
<path d="M14 316C25 303 69 303 80 316C91 329 91 381 80 394C69 407 25 407 14 394C3 381 3 329 14 316Z" fill="#c03f02"/>
<path d="M-30 492C0 471 120 471 150 492C180 513 180 599 150 620C120 641 0 641 -30 620C-60 599 -60 513 -30 492Z" fill="#ce7e02"/>
<path d="M218 292C232 237 286 237 300 292C314 347 314 565 300 620C286 675 232 675 218 620C204 565 204 347 218 292Z" fill="#ce7e02"/>
<path d="M268 340C273 323 295 323 300 340C305 357 305 427 300 444C295 461 273 461 268 444C263 427 263 357 268 340Z" fill="#d7a602"/>
<path d="M85 337C92 323 112 313 125 307C138 301 148 298 160 302C172 306 190 313 200 332C210 351 213 390 220 417C227 444 235 462 240 492C245 522 262 582 250 600C238 618 188 622 165 600C142 578 123 502 110 467C97 432 89 414 85 392C81 370 78 351 85 337Z" fill="#d8ac02"/>
<path d="M290 515C345 498 565 498 620 515C675 532 675 602 620 620C565 638 345 638 290 620C235 602 235 532 290 515Z" fill="#cd7b02"/>
<path d="M290 517C299 500 333 500 342 517C351 534 351 603 342 620C333 637 299 637 290 620C281 603 281 534 290 517Z" fill="#c14402"/>
<path d="M290 440C295 427 317 427 322 440C327 453 327 507 322 520C317 533 295 533 290 520C285 507 285 453 290 440Z" fill="#c24802"/>
<path d="M490 292C512 258 598 258 620 292C642 326 642 460 620 494C598 528 512 528 490 494C468 460 468 326 490 292Z" fill="#c14402"/>
<path d="M540 285C553 267 607 267 620 285C633 303 633 376 620 394C607 412 555 412 542 394C529 376 527 303 540 285Z" fill="#b92a02"/>
<path d="M482 407C494 389 540 389 552 407C564 425 564 499 552 517C540 535 494 535 482 517C470 499 470 425 482 407Z" fill="#d18d02"/>
<path d="M290 357C299 346 323 346 342 352C361 358 388 374 402 392C416 410 424 438 427 457C430 476 431 501 417 507C403 513 363 507 342 492C321 477 299 440 290 417C281 394 281 368 290 357Z" fill="#d59f02"/>
<path d="M427 457C430 446 444 425 452 427C460 429 475 453 477 467C479 481 469 508 462 512C455 516 443 501 437 492C431 483 424 468 427 457Z" fill="#c14402"/>
<path d="M255 45C265 37 276 40 292 40C308 40 304 31 322 45C340 59 345 84 367 100C389 116 400 92 417 115C434 138 433 159 442 200C451 241 445 257 457 292C469 327 486 329 492 352C498 375 494 379 482 392C470 405 463 415 442 407C421 399 411 379 392 357C373 335 374 326 360 312C346 298 346 317 332 296C318 275 314 254 300 222C286 190 282 186 270 160C258 134 255 130 250 110C245 90 247 90 248 75C249 60 245 53 255 45Z" fill="#dec502"/>
<path d="M408 98C407 84 421 84 428 96C435 108 443 139 452 172C461 205 480 271 482 292C484 313 470 315 462 296C454 277 441 213 432 180C423 147 409 112 408 98Z" fill="#c24802"/>
<path d="M252 52C257 34 282 37 296 44C310 51 330 71 336 92C342 113 338 152 332 170C326 188 311 203 300 200C289 197 274 175 266 150C258 125 247 70 252 52Z" fill="#e1d402"/>
</g></g>
<g filter="url(#crisp)" opacity="0.5"><g transform="translate(772.3 266.8) scale(0.40701 0.40889)">
<rect x="-60" y="-60" width="705" height="705" fill="#cd7b02"/>
<path d="M40 -30C74 -45 216 -45 250 -30C284 -15 279 47 245 62C211 77 79 77 45 62C11 47 6 -15 40 -30Z" fill="#c45102"/>
<path d="M140 55C159 47 237 47 255 55C273 63 269 97 250 105C231 113 158 113 140 105C122 97 121 63 140 55Z" fill="#cb7102"/>
<path d="M-30 85C-8 49 83 49 105 85C127 121 122 264 100 300C78 336 -8 336 -30 300C-52 264 -52 121 -30 85Z" fill="#ce8002"/>
<path d="M-30 110C-21 78 13 78 22 110C31 142 31 268 22 300C13 332 -21 332 -30 300C-39 268 -39 142 -30 110Z" fill="#d08502" fill-opacity="0.80"/>
<path d="M135 100C168 88 272 62 300 95C328 128 323 266 300 300C277 334 190 310 160 300C130 290 129 262 120 240C111 218 102 193 105 170C108 147 102 112 135 100Z" fill="#d18d02"/>
<path d="M215 110C227 78 286 73 300 105C314 137 312 268 300 300C288 332 244 332 230 300C216 268 203 142 215 110Z" fill="#d49b02"/>
<path d="M-30 228C-5 217 90 220 120 232C150 244 175 289 150 300C125 311 0 312 -30 300C-60 288 -55 239 -30 228Z" fill="#ce8002"/>
<path d="M128 18C146 8 193 14 205 28C217 42 207 78 200 100C193 122 172 138 165 160C158 182 151 207 155 230C159 253 198 288 190 300C182 312 131 312 110 305C89 298 74 279 66 255C58 231 57 188 62 160C67 132 87 114 98 90C109 66 110 28 128 18Z" fill="#c24802"/>
<path d="M140 30C149 20 167 26 168 38C169 50 156 81 148 100C140 119 128 131 122 150C116 169 109 197 112 212C115 227 129 227 140 242C151 257 178 290 180 300C182 310 163 312 150 305C137 298 112 275 100 260C88 245 80 234 78 215C76 196 82 168 88 148C94 128 103 116 112 96C121 76 131 40 140 30Z" fill="#bd3202"/>
<path d="M-30 -30C-18 -51 32 -43 45 -30C58 -17 47 30 46 50C45 70 53 84 40 92C27 100 -18 115 -30 95C-42 75 -42 -9 -30 -30Z" fill="#d7a602"/>
<path d="M290 -30C345 -42 565 -42 620 -30C675 -18 675 30 620 42C565 54 345 54 290 42C235 30 235 -18 290 -30Z" fill="#cd7802"/>
<path d="M440 -30C470 -40 590 -40 620 -30C650 -20 650 20 620 30C590 40 470 40 440 30C410 20 410 -20 440 -30Z" fill="#d28f02"/>
<path d="M455 70C468 32 522 32 535 70C548 108 548 262 535 300C522 338 473 338 460 300C447 262 442 108 455 70Z" fill="#d08802"/>
<path d="M530 28C545 11 605 11 620 28C635 45 635 111 620 128C605 145 545 145 530 128C515 111 515 45 530 28Z" fill="#c96702"/>
<path d="M532 125C546 95 605 93 620 122C635 151 634 270 620 300C606 330 550 329 535 300C520 271 518 155 532 125Z" fill="#bc2d02"/>
<path d="M290 150C293 125 307 125 310 150C313 175 313 275 310 300C307 325 293 325 290 300C287 275 287 175 290 150Z" fill="#d08502"/>
<path d="M-30 292C-10 237 68 237 88 292C108 347 108 565 88 620C68 675 -10 675 -30 620C-50 565 -50 347 -30 292Z" fill="#c96702"/>
<path d="M14 316C25 303 69 303 80 316C91 329 91 381 80 394C69 407 25 407 14 394C3 381 3 329 14 316Z" fill="#c03f02"/>
<path d="M-30 492C0 471 120 471 150 492C180 513 180 599 150 620C120 641 0 641 -30 620C-60 599 -60 513 -30 492Z" fill="#ce7e02"/>
<path d="M218 292C232 237 286 237 300 292C314 347 314 565 300 620C286 675 232 675 218 620C204 565 204 347 218 292Z" fill="#ce7e02"/>
<path d="M268 340C273 323 295 323 300 340C305 357 305 427 300 444C295 461 273 461 268 444C263 427 263 357 268 340Z" fill="#d7a602"/>
<path d="M85 337C92 323 112 313 125 307C138 301 148 298 160 302C172 306 190 313 200 332C210 351 213 390 220 417C227 444 235 462 240 492C245 522 262 582 250 600C238 618 188 622 165 600C142 578 123 502 110 467C97 432 89 414 85 392C81 370 78 351 85 337Z" fill="#d8ac02"/>
<path d="M290 515C345 498 565 498 620 515C675 532 675 602 620 620C565 638 345 638 290 620C235 602 235 532 290 515Z" fill="#cd7b02"/>
<path d="M290 517C299 500 333 500 342 517C351 534 351 603 342 620C333 637 299 637 290 620C281 603 281 534 290 517Z" fill="#c14402"/>
<path d="M290 440C295 427 317 427 322 440C327 453 327 507 322 520C317 533 295 533 290 520C285 507 285 453 290 440Z" fill="#c24802"/>
<path d="M490 292C512 258 598 258 620 292C642 326 642 460 620 494C598 528 512 528 490 494C468 460 468 326 490 292Z" fill="#c14402"/>
<path d="M540 285C553 267 607 267 620 285C633 303 633 376 620 394C607 412 555 412 542 394C529 376 527 303 540 285Z" fill="#b92a02"/>
<path d="M482 407C494 389 540 389 552 407C564 425 564 499 552 517C540 535 494 535 482 517C470 499 470 425 482 407Z" fill="#d18d02"/>
<path d="M290 357C299 346 323 346 342 352C361 358 388 374 402 392C416 410 424 438 427 457C430 476 431 501 417 507C403 513 363 507 342 492C321 477 299 440 290 417C281 394 281 368 290 357Z" fill="#d59f02"/>
<path d="M427 457C430 446 444 425 452 427C460 429 475 453 477 467C479 481 469 508 462 512C455 516 443 501 437 492C431 483 424 468 427 457Z" fill="#c14402"/>
<path d="M255 45C265 37 276 40 292 40C308 40 304 31 322 45C340 59 345 84 367 100C389 116 400 92 417 115C434 138 433 159 442 200C451 241 445 257 457 292C469 327 486 329 492 352C498 375 494 379 482 392C470 405 463 415 442 407C421 399 411 379 392 357C373 335 374 326 360 312C346 298 346 317 332 296C318 275 314 254 300 222C286 190 282 186 270 160C258 134 255 130 250 110C245 90 247 90 248 75C249 60 245 53 255 45Z" fill="#dec502"/>
<path d="M408 98C407 84 421 84 428 96C435 108 443 139 452 172C461 205 480 271 482 292C484 313 470 315 462 296C454 277 441 213 432 180C423 147 409 112 408 98Z" fill="#c24802"/>
<path d="M252 52C257 34 282 37 296 44C310 51 330 71 336 92C342 113 338 152 332 170C326 188 311 203 300 200C289 197 274 175 266 150C258 125 247 70 252 52Z" fill="#e1d402"/>
</g></g>
<rect x="772.3" y="266.8" width="238.1" height="1.6" fill="#8a5a10" fill-opacity="0.45"/>
</g></g>
<defs><filter id="blB4" x="-10%" y="-10%" width="120%" height="120%"><feGaussianBlur stdDeviation="2.05"/></filter></defs>
<g filter="url(#edge)"><g clip-path="url(#cpB4)">
<g filter="url(#blB4)"><g transform="translate(1037.3 266.8) scale(0.41009 0.40889)">
<rect x="-60" y="-60" width="705" height="705" fill="#d08502"/>
<path d="M55 -30C80 -70 180 -70 205 -30C230 10 230 172 205 212C180 252 80 252 55 212C30 172 30 10 55 -30Z" fill="#cd7b02"/>
<path d="M-30 -30C-15 -69 47 -69 62 -30C77 9 75 163 60 202C45 241 -15 241 -30 202C-45 163 -45 9 -30 -30Z" fill="#c14402"/>
<path d="M-30 122C-22 111 11 113 20 125C29 137 30 181 22 192C14 203 -21 204 -30 192C-39 180 -38 133 -30 122Z" fill="#bd3202"/>
<path d="M-30 200C25 184 245 188 300 205C355 222 355 284 300 300C245 316 25 317 -30 300C-85 283 -85 216 -30 200Z" fill="#d28f02"/>
<path d="M85 200C94 191 160 190 175 200C190 210 181 253 172 262C163 271 134 265 120 255C106 245 76 209 85 200Z" fill="#c75f02"/>
<path d="M342 -30C381 -50 574 -50 620 -30C666 -10 659 72 620 92C581 112 431 112 385 92C339 72 303 -10 342 -30Z" fill="#cd7b02"/>
<path d="M380 90C403 70 497 70 520 90C543 110 543 192 520 212C497 232 403 232 380 212C357 192 357 110 380 90Z" fill="#d18a02"/>
<path d="M516 -30C533 -85 603 -85 620 -30C637 25 637 245 620 300C603 355 535 355 518 300C501 245 499 25 516 -30Z" fill="#c96702"/>
<path d="M542 150C555 139 607 138 620 148C633 158 633 201 620 212C607 223 557 222 544 212C531 202 529 161 542 150Z" fill="#bf3a02"/>
<path d="M290 225C316 212 418 210 444 222C470 234 470 287 444 300C418 313 316 312 290 300C264 288 264 238 290 225Z" fill="#d29202"/>
<path d="M440 214C470 200 590 200 620 214C650 228 650 286 620 300C590 314 470 314 440 300C410 286 410 228 440 214Z" fill="#ce7e02"/>
<path d="M190 -30C224 -54 300 -59 345 -30C390 -1 375 35 384 95C393 155 404 194 384 226C364 258 331 235 300 232C269 229 266 231 250 212C234 193 242 182 230 150C218 118 209 117 200 75C191 33 156 -6 190 -30Z" fill="#d7a602"/>
<path d="M-30 292C25 247 245 247 300 292C355 337 355 515 300 560C245 605 25 605 -30 560C-85 515 -85 337 -30 292Z" fill="#d18d02"/>
<path d="M-30 290C5 280 144 280 178 290C212 300 211 342 176 352C141 362 4 362 -30 352C-64 342 -65 300 -30 290Z" fill="#d29002"/>
<path d="M-30 332C-18 309 28 309 40 332C52 355 54 445 42 468C30 491 -18 491 -30 468C-42 445 -42 355 -30 332Z" fill="#c55702"/>
<path d="M30 342C32 324 58 323 70 340C82 357 104 424 102 442C100 460 72 462 60 445C48 428 28 360 30 342Z" fill="#c55702"/>
<path d="M190 285C206 266 282 263 300 285C318 307 316 398 300 417C284 436 223 422 205 400C187 378 174 304 190 285Z" fill="#d29202"/>
<path d="M200 392C190 400 232 421 240 442C248 463 255 500 250 517C245 534 220 525 210 542C200 559 175 607 190 620C205 633 282 658 300 620C318 582 317 430 300 392C283 354 210 384 200 392Z" fill="#c45002"/>
<path d="M270 442C275 432 295 432 300 442C305 452 305 492 300 502C295 512 275 512 270 502C265 492 265 452 270 442Z" fill="#d49802"/>
<path d="M-30 542C25 529 245 529 300 542C355 555 355 607 300 620C245 633 25 633 -30 620C-85 607 -85 555 -30 542Z" fill="#cb7002"/>
<path d="M225 532C238 517 288 515 300 530C312 545 312 605 300 620C288 635 238 635 225 620C212 605 212 547 225 532Z" fill="#bf3a02"/>
<path d="M290 292C332 237 498 237 540 292C582 347 582 565 540 620C498 675 332 675 290 620C248 565 248 347 290 292Z" fill="#d29202"/>
<path d="M290 290C303 277 354 277 367 290C380 303 380 354 367 367C354 380 303 380 290 367C277 354 277 303 290 290Z" fill="#d7a602"/>
<path d="M332 317C339 307 373 301 382 312C391 323 391 372 384 382C377 392 349 383 340 372C331 361 325 327 332 317Z" fill="#ce7e02"/>
<path d="M288 457C299 430 342 433 352 460C362 487 361 593 350 620C339 647 298 647 288 620C278 593 277 484 288 457Z" fill="#c24802"/>
<path d="M532 292C546 237 605 237 620 292C635 347 634 565 620 620C606 675 549 675 534 620C519 565 518 347 532 292Z" fill="#cb7002"/>
<path d="M352 532C383 517 509 517 540 532C571 547 571 605 540 620C509 635 383 635 352 620C321 605 321 547 352 532Z" fill="#d7a602" fill-opacity="0.80"/>
</g></g>
<g filter="url(#crisp)" opacity="0.5"><g transform="translate(1037.3 266.8) scale(0.41009 0.40889)">
<rect x="-60" y="-60" width="705" height="705" fill="#d08502"/>
<path d="M55 -30C80 -70 180 -70 205 -30C230 10 230 172 205 212C180 252 80 252 55 212C30 172 30 10 55 -30Z" fill="#cd7b02"/>
<path d="M-30 -30C-15 -69 47 -69 62 -30C77 9 75 163 60 202C45 241 -15 241 -30 202C-45 163 -45 9 -30 -30Z" fill="#c14402"/>
<path d="M-30 122C-22 111 11 113 20 125C29 137 30 181 22 192C14 203 -21 204 -30 192C-39 180 -38 133 -30 122Z" fill="#bd3202"/>
<path d="M-30 200C25 184 245 188 300 205C355 222 355 284 300 300C245 316 25 317 -30 300C-85 283 -85 216 -30 200Z" fill="#d28f02"/>
<path d="M85 200C94 191 160 190 175 200C190 210 181 253 172 262C163 271 134 265 120 255C106 245 76 209 85 200Z" fill="#c75f02"/>
<path d="M342 -30C381 -50 574 -50 620 -30C666 -10 659 72 620 92C581 112 431 112 385 92C339 72 303 -10 342 -30Z" fill="#cd7b02"/>
<path d="M380 90C403 70 497 70 520 90C543 110 543 192 520 212C497 232 403 232 380 212C357 192 357 110 380 90Z" fill="#d18a02"/>
<path d="M516 -30C533 -85 603 -85 620 -30C637 25 637 245 620 300C603 355 535 355 518 300C501 245 499 25 516 -30Z" fill="#c96702"/>
<path d="M542 150C555 139 607 138 620 148C633 158 633 201 620 212C607 223 557 222 544 212C531 202 529 161 542 150Z" fill="#bf3a02"/>
<path d="M290 225C316 212 418 210 444 222C470 234 470 287 444 300C418 313 316 312 290 300C264 288 264 238 290 225Z" fill="#d29202"/>
<path d="M440 214C470 200 590 200 620 214C650 228 650 286 620 300C590 314 470 314 440 300C410 286 410 228 440 214Z" fill="#ce7e02"/>
<path d="M190 -30C224 -54 300 -59 345 -30C390 -1 375 35 384 95C393 155 404 194 384 226C364 258 331 235 300 232C269 229 266 231 250 212C234 193 242 182 230 150C218 118 209 117 200 75C191 33 156 -6 190 -30Z" fill="#d7a602"/>
<path d="M-30 292C25 247 245 247 300 292C355 337 355 515 300 560C245 605 25 605 -30 560C-85 515 -85 337 -30 292Z" fill="#d18d02"/>
<path d="M-30 290C5 280 144 280 178 290C212 300 211 342 176 352C141 362 4 362 -30 352C-64 342 -65 300 -30 290Z" fill="#d29002"/>
<path d="M-30 332C-18 309 28 309 40 332C52 355 54 445 42 468C30 491 -18 491 -30 468C-42 445 -42 355 -30 332Z" fill="#c55702"/>
<path d="M30 342C32 324 58 323 70 340C82 357 104 424 102 442C100 460 72 462 60 445C48 428 28 360 30 342Z" fill="#c55702"/>
<path d="M190 285C206 266 282 263 300 285C318 307 316 398 300 417C284 436 223 422 205 400C187 378 174 304 190 285Z" fill="#d29202"/>
<path d="M200 392C190 400 232 421 240 442C248 463 255 500 250 517C245 534 220 525 210 542C200 559 175 607 190 620C205 633 282 658 300 620C318 582 317 430 300 392C283 354 210 384 200 392Z" fill="#c45002"/>
<path d="M270 442C275 432 295 432 300 442C305 452 305 492 300 502C295 512 275 512 270 502C265 492 265 452 270 442Z" fill="#d49802"/>
<path d="M-30 542C25 529 245 529 300 542C355 555 355 607 300 620C245 633 25 633 -30 620C-85 607 -85 555 -30 542Z" fill="#cb7002"/>
<path d="M225 532C238 517 288 515 300 530C312 545 312 605 300 620C288 635 238 635 225 620C212 605 212 547 225 532Z" fill="#bf3a02"/>
<path d="M290 292C332 237 498 237 540 292C582 347 582 565 540 620C498 675 332 675 290 620C248 565 248 347 290 292Z" fill="#d29202"/>
<path d="M290 290C303 277 354 277 367 290C380 303 380 354 367 367C354 380 303 380 290 367C277 354 277 303 290 290Z" fill="#d7a602"/>
<path d="M332 317C339 307 373 301 382 312C391 323 391 372 384 382C377 392 349 383 340 372C331 361 325 327 332 317Z" fill="#ce7e02"/>
<path d="M288 457C299 430 342 433 352 460C362 487 361 593 350 620C339 647 298 647 288 620C278 593 277 484 288 457Z" fill="#c24802"/>
<path d="M532 292C546 237 605 237 620 292C635 347 634 565 620 620C606 675 549 675 534 620C519 565 518 347 532 292Z" fill="#cb7002"/>
<path d="M352 532C383 517 509 517 540 532C571 547 571 605 540 620C509 635 383 635 352 620C321 605 321 547 352 532Z" fill="#d7a602" fill-opacity="0.80"/>
</g></g>
<rect x="1037.3" y="266.8" width="239.9" height="1.6" fill="#8a5a10" fill-opacity="0.45"/>
</g></g>
<g filter="url(#tx)">
<text x="800.4" y="47.4" font-size="29.5" fill="#3d1408" stroke="#3d1408" stroke-width="0.70" textLength="29.4" lengthAdjust="spacingAndGlyphs">B1</text>
<text x="937.6" y="47.4" font-size="29.5" fill="#3d1408" stroke="#3d1408" stroke-width="0.70" textLength="51.0" lengthAdjust="spacingAndGlyphs">OCP</text>
<text x="1066.4" y="46.9" font-size="29.5" fill="#3d1408" stroke="#3d1408" stroke-width="0.70" textLength="29.6" lengthAdjust="spacingAndGlyphs">B2</text>
<text x="1182.6" y="45.2" font-size="29.0" fill="#3d1408" stroke="#3d1408" stroke-width="0.70" textLength="71.4" lengthAdjust="spacingAndGlyphs">-0.2 V</text>
<text x="1193.0" y="241.0" font-size="27.0" fill="#3d1408" stroke="#3d1408" stroke-width="0.70" textLength="67.5" lengthAdjust="spacingAndGlyphs">4 min</text>
<text x="800.3" y="302.0" font-size="29.5" fill="#3d1408" stroke="#3d1408" stroke-width="0.70" textLength="30.0" lengthAdjust="spacingAndGlyphs">B3</text>
<text x="916.6" y="304.5" font-size="29.0" fill="#3d1408" stroke="#3d1408" stroke-width="0.70" textLength="71.4" lengthAdjust="spacingAndGlyphs">-0.2 V</text>
<text x="911.0" y="495.4" font-size="27.0" fill="#3d1408" stroke="#3d1408" stroke-width="0.70" textLength="82.6" lengthAdjust="spacingAndGlyphs">16 min</text>
<text x="1063.4" y="301.5" font-size="29.5" fill="#3d1408" stroke="#3d1408" stroke-width="0.70" textLength="30.1" lengthAdjust="spacingAndGlyphs">B4</text>
<text x="1185.4" y="301.3" font-size="29.0" fill="#3d1408" stroke="#3d1408" stroke-width="0.70" textLength="72.2" lengthAdjust="spacingAndGlyphs">-0.2 V</text>
<text x="1176.0" y="489.6" font-size="27.0" fill="#3d1408" stroke="#3d1408" stroke-width="0.70" textLength="83.5" lengthAdjust="spacingAndGlyphs">32 min</text>
<path d="M786.3 239.6V221.3H849.0V239.6M817.6 221.3V240.6M801.2 221.3V232.3M834.1 221.3V232.3" fill="none" stroke="#260805" stroke-width="3"/>
<text x="788.9" y="214.3" font-size="20.0" fill="#4a150a" stroke="#4a150a" stroke-width="0.30" textLength="52.3" lengthAdjust="spacingAndGlyphs" class="serif">65 nm</text>
<path d="M1049.9 242.0V224.0H1113.5V242.0M1081.7 224.0V243.0M1065.1 224.0V235.0M1098.3 224.0V235.0" fill="none" stroke="#260805" stroke-width="3"/>
<text x="1053.0" y="214.9" font-size="20.0" fill="#4a150a" stroke="#4a150a" stroke-width="0.30" textLength="52.7" lengthAdjust="spacingAndGlyphs" class="serif">65 nm</text>
<path d="M784.9 498.4V481.0H848.5V498.4M816.7 481.0V499.4M800.0 481.0V492.0M833.4 481.0V492.0" fill="none" stroke="#260805" stroke-width="3"/>
<text x="788.8" y="471.9" font-size="20.0" fill="#4a150a" stroke="#4a150a" stroke-width="0.30" textLength="52.2" lengthAdjust="spacingAndGlyphs" class="serif">65 nm</text>
<path d="M1050.7 495.6V476.7H1115.3V495.6M1083.0 476.7V496.6M1066.1 476.7V487.7M1099.9 476.7V487.7" fill="none" stroke="#260805" stroke-width="3"/>
<text x="1054.6" y="467.8" font-size="20.0" fill="#4a150a" stroke="#4a150a" stroke-width="0.30" textLength="52.0" lengthAdjust="spacingAndGlyphs" class="serif">65 nm</text>
</g>
</svg>
</body>
</html>
